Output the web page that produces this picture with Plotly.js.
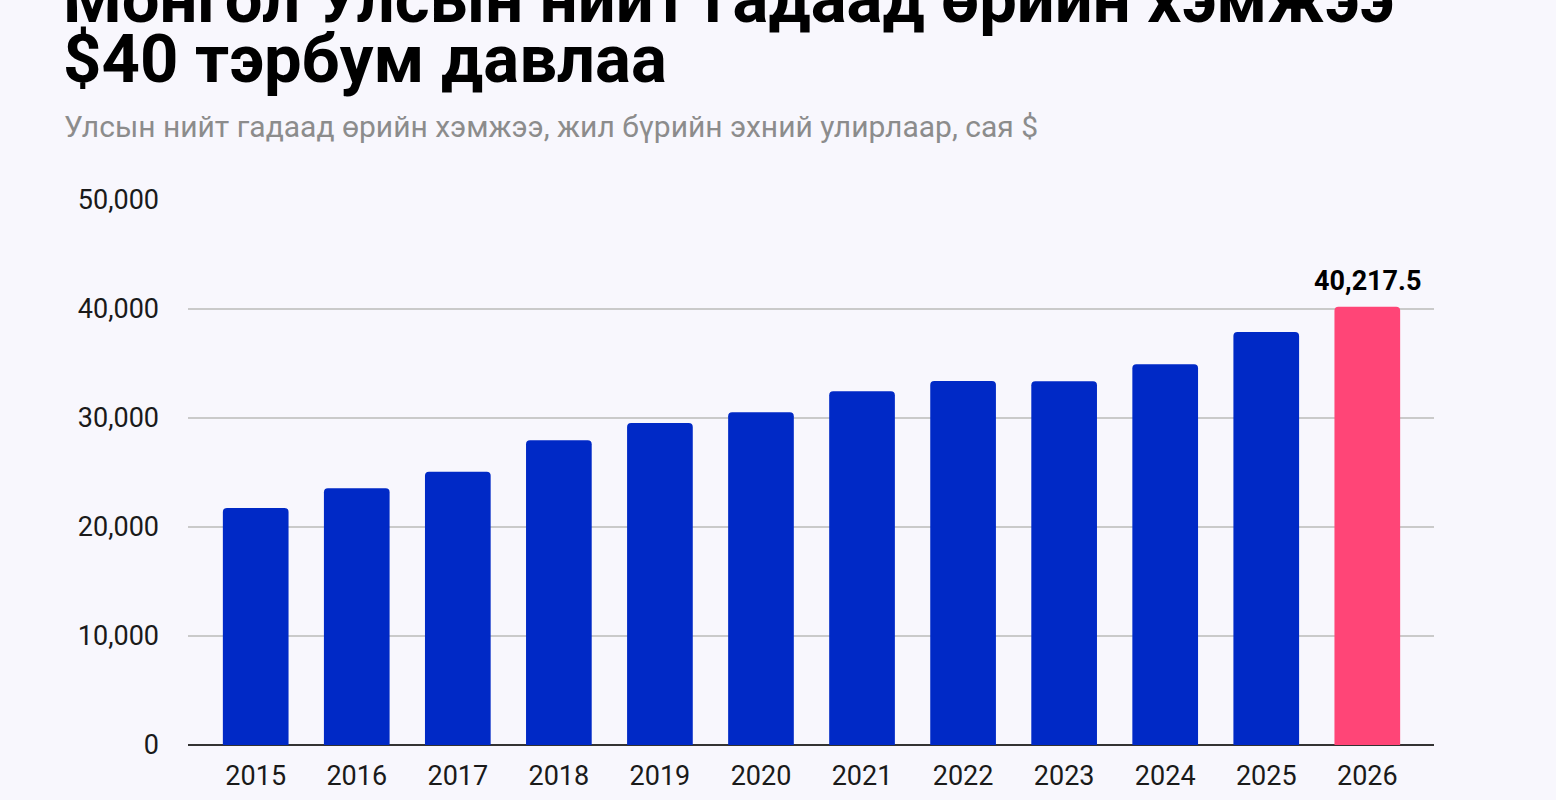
<!DOCTYPE html>
<html>
<head>
<meta charset="utf-8">
<script src="https://cdn.plot.ly/plotly-3.0.1.min.js"></script>
<style>
  html, body { margin: 0; padding: 0; background: #f8f7fd; }
  #chart { width: 1556px; height: 800px; }
</style>
</head>
<body>
<div id="chart"></div>
<script>
// Mongolia's gross external debt, first quarter of each year, million USD
const years = ['2015', '2016', '2017', '2018', '2019', '2020', '2021', '2022', '2023', '2024', '2025', '2026'];
const debt = [21740, 23550, 25070, 27950, 29540, 30520, 32450, 33400, 33380, 34930, 37900, 40217.5];
const highlightYear = '2026';

const yTicks = [0, 10000, 20000, 30000, 40000, 50000];
const yTickLabels = ['0', '10,000', '20,000', '30,000', '40,000', '50,000'];

const titleLine1 = 'Монгол Улсын нийт гадаад өрийн хэмжээ';
const titleLine2 = '$40 тэрбум давлаа';
const subtitle = 'Улсын нийт гадаад өрийн хэмжээ, жил бүрийн эхний улирлаар, сая $';

const BLUE = '#0029c6';
const PINK = '#ff4577';

const barColors = years.map(y => (y === highlightYear ? PINK : BLUE));
const hi = years.indexOf(highlightYear);
const fmt = v => v.toLocaleString('en-US', { minimumFractionDigits: 1, maximumFractionDigits: 1 });

const trace = {
  type: 'bar',
  x: years,
  y: debt,
  marker: { color: barColors, cornerradius: 4, line: { width: 0 } },
  hoverinfo: 'x+y'
};

const font = 'Roboto, "Noto Sans", "DejaVu Sans", sans-serif';

const layout = {
  width: 1556,
  height: 800,
  paper_bgcolor: '#f8f7fd',
  plot_bgcolor: '#f8f7fd',
  margin: { l: 188, r: 122, t: 200, b: 55 },
  bargap: 0.35,
  showlegend: false,
  font: { family: font, color: '#1a1a1a' },
  xaxis: {
    type: 'category',
    range: [-0.67, 11.66],
    showgrid: false,
    showline: false,
    ticks: '',
    ticklabelstandoff: 12,
    tickfont: { size: 27, color: '#1a1a1a' },
    fixedrange: true
  },
  yaxis: {
    range: [0, 50000],
    tickvals: yTicks,
    ticktext: yTickLabels,
    showgrid: true,
    gridcolor: '#cacaca',
    gridwidth: 2,
    zeroline: true,
    zerolinecolor: '#333333',
    zerolinewidth: 2,
    showline: false,
    ticks: '',
    ticklabelstandoff: 28,
    tickfont: { size: 27, color: '#1a1a1a' },
    fixedrange: true
  },
  annotations: [
    {
      xref: 'paper', yref: 'paper', x: -0.102, y: 1.2936,
      xanchor: 'left', yanchor: 'bottom', showarrow: false,
      text: titleLine1,
      font: { family: font, size: 67, weight: 700, color: '#000000' }
    },
    {
      xref: 'paper', yref: 'paper', x: -0.102, y: 1.1835,
      xanchor: 'left', yanchor: 'bottom', showarrow: false,
      text: titleLine2,
      font: { family: font, size: 67, weight: 700, color: '#000000' }
    },
    {
      xref: 'paper', yref: 'paper', x: -0.101, y: 1.099,
      xanchor: 'left', yanchor: 'bottom', showarrow: false,
      text: subtitle,
      font: { family: font, size: 30, color: '#8c8c8c' }
    },
    {
      xref: 'x', yref: 'y', x: hi, y: debt[hi],
      xanchor: 'center', yanchor: 'bottom', yshift: 8, showarrow: false,
      text: fmt(debt[hi]),
      font: { family: font, size: 27, weight: 700, color: '#000000' }
    }
  ]
};

Plotly.newPlot('chart', [trace], layout, { displayModeBar: false, staticPlot: true });
</script>
</body>
</html>
